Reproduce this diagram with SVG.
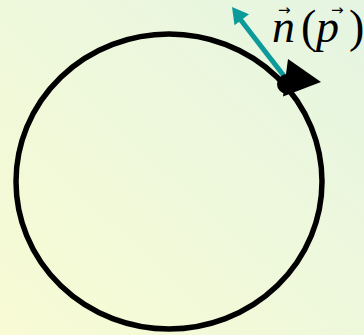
<svg xmlns="http://www.w3.org/2000/svg" width="364" height="335" viewBox="0 0 364 335">
  <defs>
    <linearGradient id="bg" x1="0" y1="1" x2="1" y2="0">
      <stop offset="0" stop-color="#f8fbd4"/>
      <stop offset="1" stop-color="#e5f5e2"/>
    </linearGradient>
    <style>
      .math { font-family: "Liberation Serif", "Times New Roman", serif; font-size: 46px; fill: #000; }
      .it { font-style: italic; }
      .vec { font-family: "DejaVu Sans", sans-serif; font-size: 15px; font-style: normal; }
    </style>
  </defs>
  <rect x="0" y="0" width="364" height="335" fill="url(#bg)"/>
  <g id="curve">
    <ellipse cx="169" cy="181.5" rx="153" ry="147.5" fill="none" stroke="#000" stroke-width="5.5"/>
  </g>
  <g id="connectors">
    <line x1="284" y1="76" x2="240" y2="19" stroke="#0c9a9a" stroke-width="5"/>
    <polygon points="232,7 249,14.3 234.5,25.3" fill="#0c9a9a"/>
  </g>
  <g id="point">
    <polygon points="288,59 321,82 283,96.5" fill="#000"/>
    <circle cx="287" cy="84" r="10" fill="#000"/>
  </g>
  <g id="label">
    <text class="math"><tspan class="it" x="272" y="42">n</tspan><tspan class="vec" x="278" y="15">→</tspan><tspan x="301" y="42">(</tspan><tspan class="it" x="316" y="42">p</tspan><tspan class="vec" x="331" y="15">→</tspan><tspan x="349" y="42">)</tspan></text>
  </g>
</svg>
